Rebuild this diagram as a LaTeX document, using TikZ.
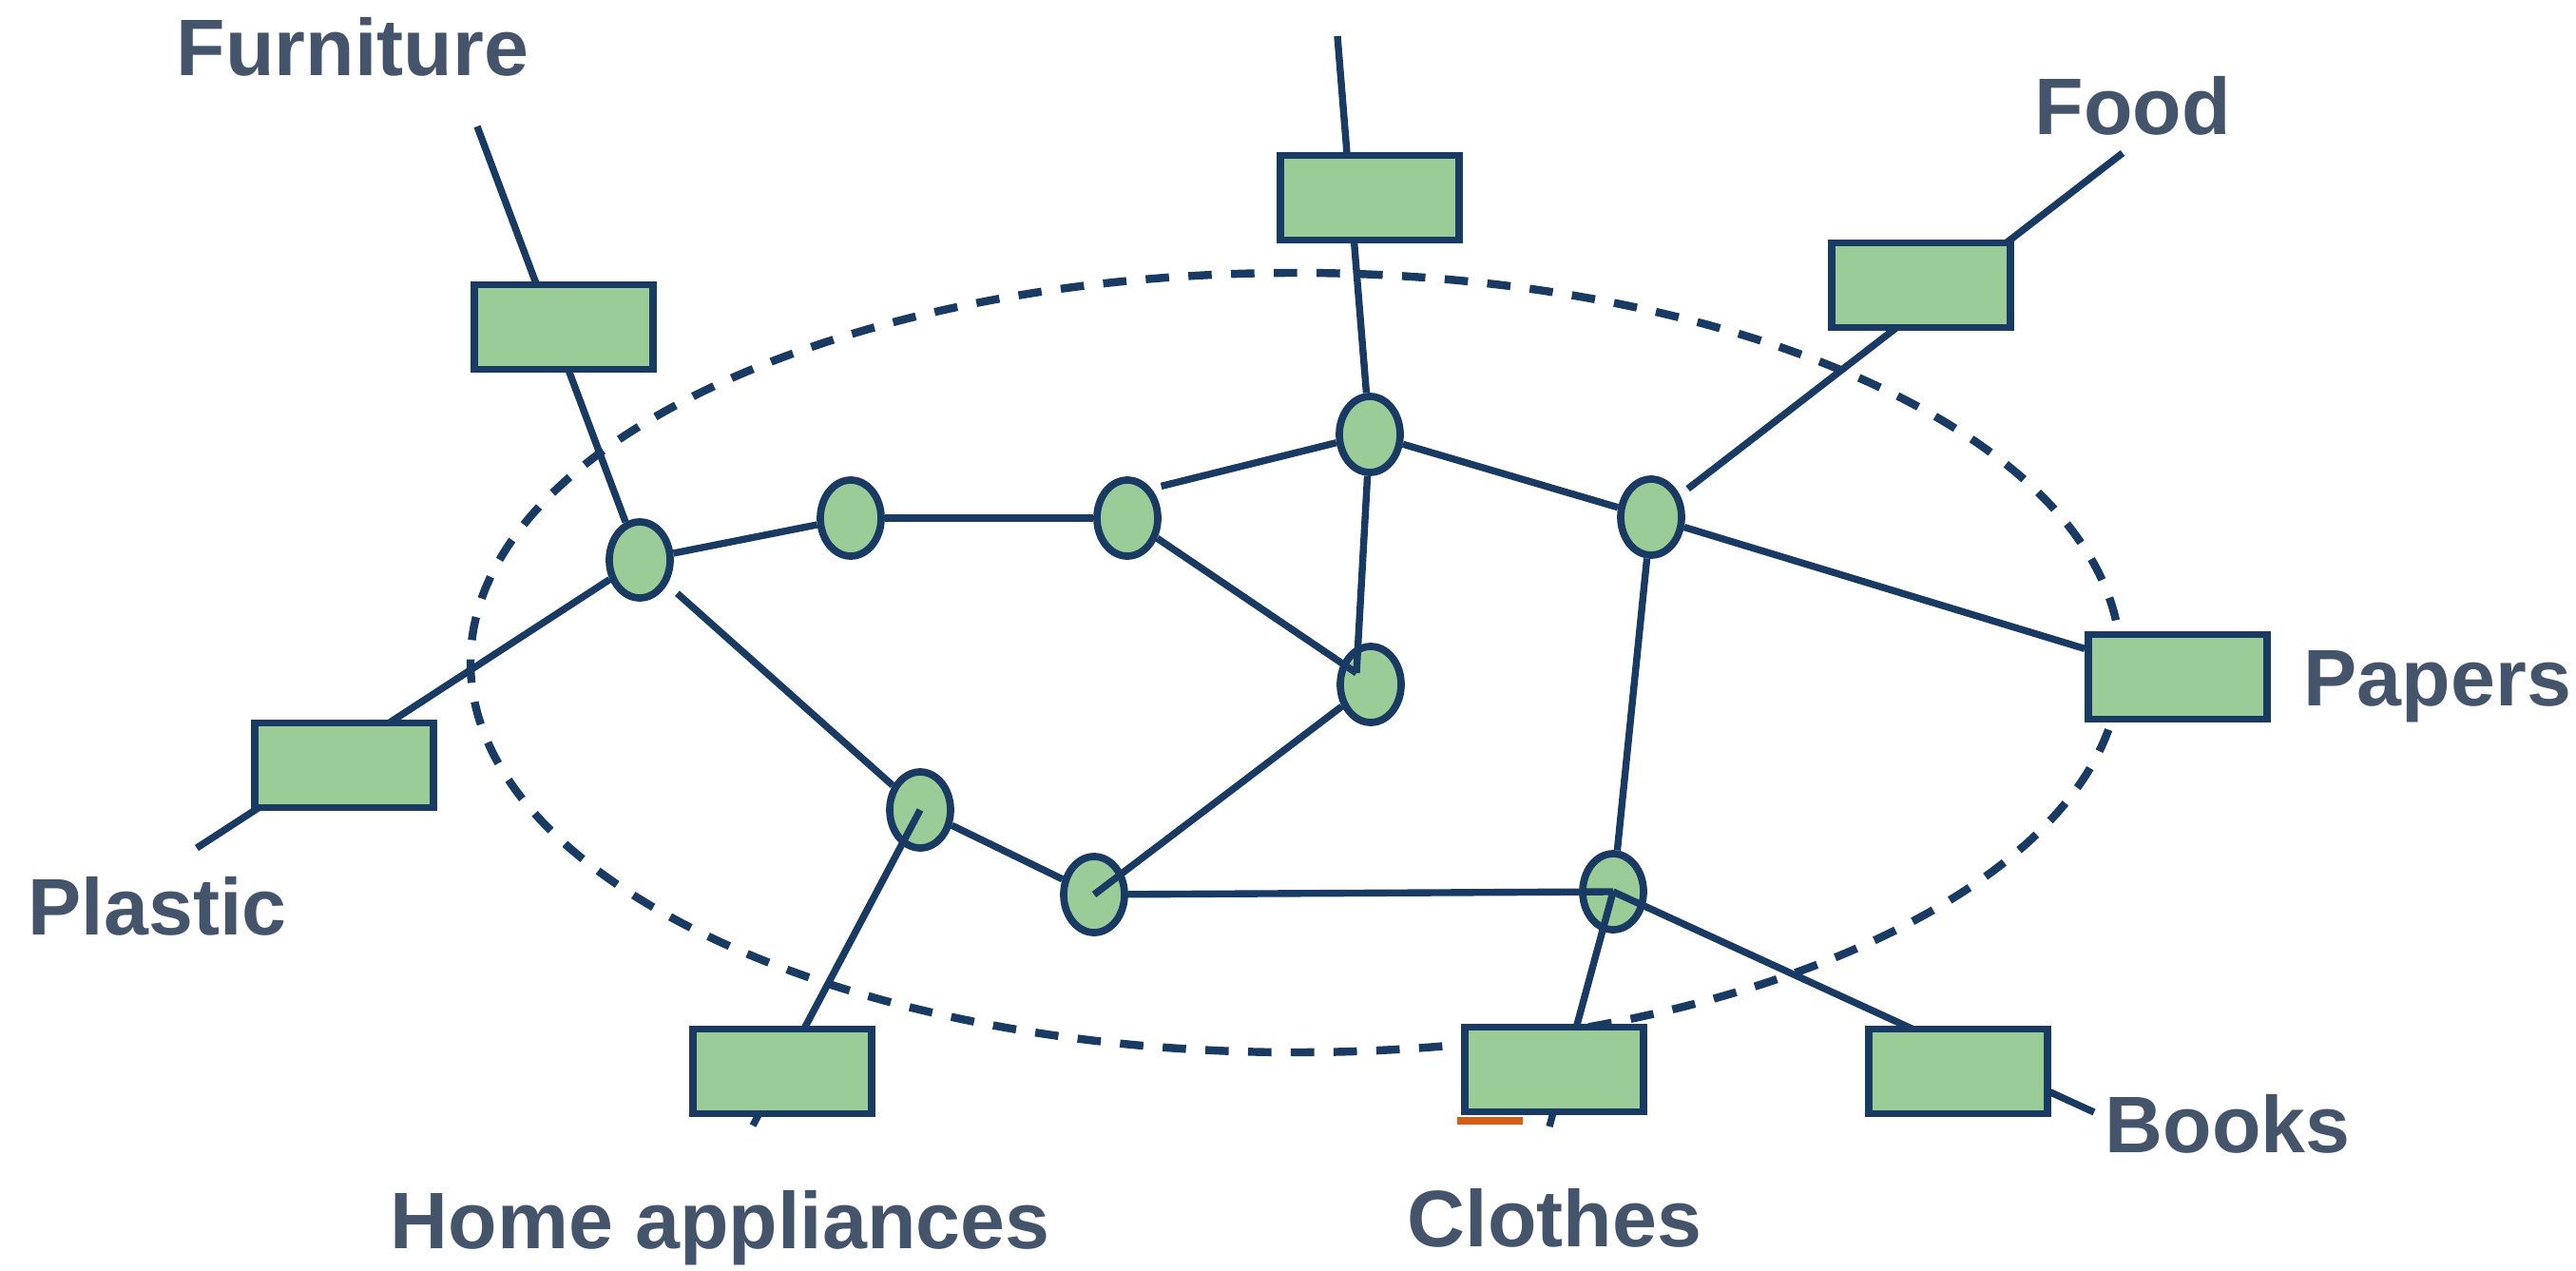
\documentclass[tikz,border=0pt]{standalone}
\usepackage{fontspec}
\setmainfont{Liberation Sans}
\usetikzlibrary{shapes.geometric}
\definecolor{netblue}{RGB}{24,58,99}
\definecolor{binfill}{RGB}{155,203,150}
\definecolor{labelgray}{RGB}{68,84,106}
\definecolor{markorange}{RGB}{214,92,24}
\begin{document}
\begin{tikzpicture}[
	hub/.style = {ellipse, draw = netblue, fill = binfill, line width = 2.2pt, minimum width = 0.64cm, minimum height = 0.80cm, inner sep = 0pt},
	bin/.style = {rectangle, draw = netblue, fill = binfill, line width = 2.2pt, minimum width = 1.88cm, minimum height = 0.89cm, inner sep = 0pt},
	link/.style = {draw = netblue, line width = 2.1pt},
	tag/.style = {anchor = base west, text = labelgray, font = \fontsize{24}{28}\selectfont\bfseries, inner sep = 0pt}
	]
	\useasboundingbox (0, 0) rectangle (27.1, -13.37);
	\draw[netblue, line width = 2.4pt, dash pattern = on 7pt off 5.8pt] (13.63, -6.97) ellipse (8.68 and 4.10);

	\node[hub] (n1) at (6.73, -5.89) {};
	\node[hub] (n2) at (8.95, -5.45) {};
	\node[hub] (n3) at (11.86, -5.45) {};
	\node[hub] (n4) at (14.41, -4.57) {};
	\node[hub] (n5) at (14.42, -7.20) {};
	\node[hub] (n6) at (17.37, -5.44) {};
	\node[hub] (n7) at (9.68, -8.52) {};
	\node[hub] (n8) at (11.51, -9.41) {};
	\node[hub] (n9) at (16.97, -9.38) {};
	\coordinate (n5in) at (14.27, -7.08);

	\coordinate (furnend) at (5.02, -1.33);
	\coordinate (topend) at (14.07, -0.38);
	\coordinate (foodend) at (22.33, -1.61);
	\coordinate (plasticend) at (2.07, -8.92);
	\coordinate (homeend) at (7.92, -11.84);
	\coordinate (clothesend) at (16.30, -11.85);
	\coordinate (booksend) at (22.03, -11.70);

	\draw[link] (furnend) -- (n1);
	\draw[link] (topend) -- (n4);
	\draw[link, shorten >= 3pt] (foodend) -- (n6);
	\draw[link] (plasticend) -- (n1);
	\draw[link] (n7.center) -- (homeend);
	\draw[link] (n9.center) -- (booksend);
	\draw[link] (n9.center) -- (clothesend);

	\draw[link] (n1) -- (n2);
	\draw[link] (n2) -- (n3);
	\draw[link, shorten <= 3pt] (n3.north east) -- (n4);
	\draw[link] (n3) -- (n5in);
	\draw[link] (n4) -- (n5in);
	\draw[link] (n4) -- (n6);
	\draw[link, shorten <= 4pt] (n1) -- (n7);
	\draw[link] (n7) -- (n8);
	\draw[link] (n8.center) -- (n5);
	\draw[link] (n8) -- (n9.center);
	\draw[link] (n6) -- (n9);

	\fill[markorange] (15.33, -11.75) rectangle (16.02, -11.83);

	\node[bin] (furniture) at (5.93, -3.44) {};
	\node[bin] (topbin) at (14.41, -2.08) {};
	\node[bin] (food) at (20.21, -3.00) {};
	\node[bin] (papers) at (22.91, -7.12) {};
	\node[bin] (books) at (20.60, -11.27) {};
	\node[bin] (clothes) at (16.35, -11.25) {};
	\node[bin] (homeapp) at (8.23, -11.27) {};
	\node[bin] (plastic) at (3.62, -8.05) {};

	\draw[link] (n6) -- (papers);

	\node[tag] (furnlabel) at (1.85, -0.80) {Furniture};
	\node[tag] (foodlabel) at (21.40, -1.42) {Food};
	\node[tag] (paperslabel) at (24.23, -7.42) {Papers};
	\node[tag] (plasticlabel) at (0.29, -9.83) {Plastic};
	\node[tag] (homelabel) at (4.10, -13.13) {Home appliances};
	\node[tag] (clotheslabel) at (14.80, -13.11) {Clothes};
	\node[tag] (bookslabel) at (22.14, -12.12) {Books};
\end{tikzpicture}
\end{document}
